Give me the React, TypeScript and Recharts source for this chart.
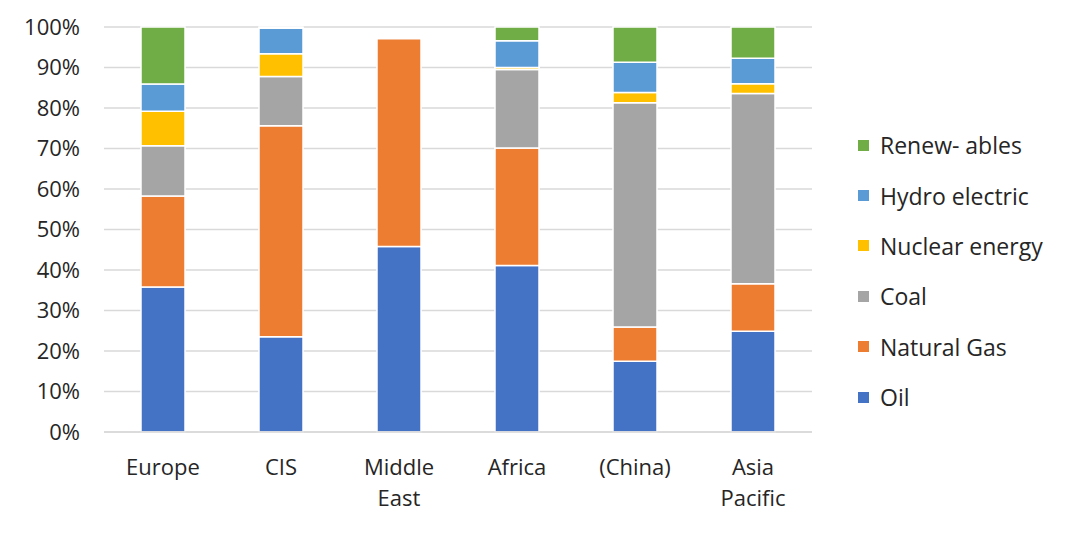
import React from "react";
import { BarChart, Bar, XAxis, YAxis, CartesianGrid } from "recharts";

const categories = ["Europe", "CIS", "Middle East", "Africa", "(China)", "Asia Pacific"];
const oil = [35.8, 23.5, 45.8, 41.1, 17.5, 24.9];
const naturalGas = [22.5, 52.1, 51.3, 29.0, 8.4, 11.7];
const coal = [12.4, 12.2, 0, 19.4, 55.4, 47.0];
const nuclear = [8.5, 5.6, 0, 0.5, 2.5, 2.4];
const hydro = [6.7, 6.3, 0, 6.6, 7.5, 6.3];
const renewables = [14.1, 0.3, 0, 3.4, 8.7, 7.7];
const yTicks = [0, 10, 20, 30, 40, 50, 60, 70, 80, 90, 100];

const seriesDefs = [
  { key: "oil", name: "Oil", color: "#4472C4", values: oil },
  { key: "gas", name: "Natural Gas", color: "#ED7D31", values: naturalGas },
  { key: "coal", name: "Coal", color: "#A5A5A5", values: coal },
  { key: "nuclear", name: "Nuclear energy", color: "#FFC000", values: nuclear },
  { key: "hydro", name: "Hydro electric", color: "#5B9BD5", values: hydro },
  { key: "renew", name: "Renew- ables", color: "#70AD47", values: renewables },
];

const data = categories.map((c, i) => {
  const row: any = { category: c };
  seriesDefs.forEach((s) => (row[s.key] = s.values[i]));
  return row;
});

const FONT = "'Open Sans', sans-serif";
const TEXT = "#262626";

const XTick = (props: any) => {
  const { x, y, payload } = props;
  const lines = String(payload.value).split(" ");
  return (
    <text x={x} y={y} textAnchor="middle" fontFamily={FONT} fontSize={22} fill={TEXT}>
      {lines.map((l, i) => (
        <tspan key={i} x={x} y={y + 35 + i * 31}>
          {l}
        </tspan>
      ))}
    </text>
  );
};

export default function App() {
  return (
    <div style={{ position: "absolute", left: 0, top: 0, width: 1074, height: 543, background: "#fff" }}>
      <BarChart
        width={1074}
        height={543}
        data={data}
        margin={{ top: 27, right: 262, bottom: 31, left: 0 }}
        barSize={44}
      >
        <CartesianGrid vertical={false} stroke="#d9d9d9" strokeWidth={1.5} />
        <XAxis
          dataKey="category"
          height={80}
          tickLine={false}
          axisLine={{ stroke: "#d9d9d9", strokeWidth: 1.5 }}
          tick={<XTick />}
          interval={0}
        />
        <YAxis
          width={104}
          domain={[0, 100]}
          ticks={yTicks}
          tickFormatter={(v: number) => `${v}%`}
          axisLine={false}
          tickLine={false}
          tickSize={0}
          tickMargin={24}
          tick={{ fontFamily: FONT, fontSize: 22, fill: TEXT }}
          interval={0}
        />
        {seriesDefs.map((s) => (
          <Bar
            key={s.key}
            dataKey={s.key}
            name={s.name}
            stackId="a"
            fill={s.color}
            stroke="#ffffff"
            strokeWidth={1.5}
            isAnimationActive={false}
          />
        ))}
      </BarChart>
      <div style={{ position: "absolute", left: 858, top: 120, fontFamily: FONT, fontSize: 23, color: TEXT }}>
        {[...seriesDefs].reverse().map((s) => (
          <div key={s.key} style={{ display: "flex", alignItems: "center", height: 50.4 }}>
            <div style={{ width: 11, height: 11, background: s.color, marginRight: 11 }} />
            <span style={{ whiteSpace: "nowrap" }}>{s.name}</span>
          </div>
        ))}
      </div>
    </div>
  );
}
